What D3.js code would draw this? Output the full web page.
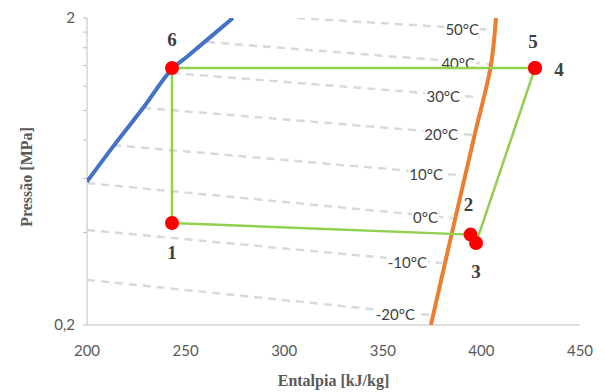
<!DOCTYPE html>
<html>
<head>
<meta charset="utf-8">
<script src="https://cdn.jsdelivr.net/npm/d3@7"></script>
<style>
  body { margin: 0; background: #fff; }
  text { font-family: "Liberation Serif", "Times New Roman", serif; }
  .sans { font-family: Lato, "Liberation Sans", sans-serif; }
</style>
</head>
<body>
<div id="chart"></div>
<script>
// Saturation curves [h kJ/kg, P MPa]
const liquidCurve = [[200, 0.586], [213.2, 0.762], [228.4, 1.018], [242.6, 1.354], [250.7, 1.496], [274, 2.0]];
const vaporCurve = [[374.4, 0.2], [385.2, 0.403], [396.8, 0.844], [404.7, 1.388], [407.4, 2.0]];

// Isotherms: label, start, end
const isoLabels = ["50°C", "40°C", "30°C", "20°C", "10°C", "0°C", "-10°C", "-20°C"];
const isoStart = [[306.5, 2.0], [260.9, 1.67], [243.1, 1.324], [228.4, 1.02], [213.2, 0.771], [200, 0.58], [200, 0.408], [200, 0.2805]];
const isoEnd = [[406.4, 1.828], [404.4, 1.416], [396.8, 1.106], [395.7, 0.832], [388.1, 0.616], [385.6, 0.446], [380.0, 0.318], [373.9, 0.2155]];

// Cycle states
const stateNames = ["1", "2", "3", "4", "5", "6"];
const stateH = [243.1, 394.5, 397.3, 427.2, 427.2, 243.1];
const stateP = [0.43, 0.394, 0.37, 1.375, 1.375, 1.375];

const xTicks = [200, 250, 300, 350, 400, 450];
const yMinorTicks = [0.2, 0.4, 0.6, 0.8, 1.0, 1.2, 1.4, 1.6, 1.8, 2.0];

const W = 605, H = 392;
const m = { left: 87, right: 580, top: 18, bottom: 325 };

const svg = d3.select("#chart").append("svg")
    .attr("width", W)
    .attr("height", H);

const x = d3.scaleLinear().domain([200, 450]).range([m.left, m.right]);
const y = d3.scaleLog().domain([0.2, 2]).range([m.bottom, m.top]);

svg.append("defs").append("clipPath").attr("id", "plot")
  .append("rect")
    .attr("x", m.left).attr("y", m.top)
    .attr("width", m.right - m.left).attr("height", m.bottom - m.top);

// Axes
svg.append("line")
    .attr("x1", m.left).attr("x2", m.right)
    .attr("y1", m.bottom).attr("y2", m.bottom)
    .attr("stroke", "#bfbfbf").attr("stroke-width", 1);
svg.append("line")
    .attr("x1", m.left).attr("x2", m.left)
    .attr("y1", m.top).attr("y2", m.bottom)
    .attr("stroke", "#bfbfbf").attr("stroke-width", 1);

svg.selectAll(".ytick")
    .data(yMinorTicks)
  .enter().append("line")
    .attr("x1", m.left - 4).attr("x2", m.left)
    .attr("y1", d => y(d)).attr("y2", d => y(d))
    .attr("stroke", "#bfbfbf");

svg.selectAll(".xlab")
    .data(xTicks)
  .enter().append("text")
    .attr("class", "sans")
    .attr("x", d => x(d))
    .attr("y", m.bottom + 31)
    .attr("text-anchor", "middle")
    .attr("font-size", 15)
    .attr("fill", "#595959")
    .text(d => d);

svg.selectAll(".ylab")
    .data([2, 0.2])
  .enter().append("text")
    .attr("class", "sans")
    .attr("x", m.left - 12)
    .attr("y", d => y(d) + 5)
    .attr("text-anchor", "end")
    .attr("font-size", 15)
    .attr("fill", "#595959")
    .text(d => String(d).replace(".", ","));

svg.append("text")
    .attr("x", (m.left + m.right) / 2)
    .attr("y", 386)
    .attr("text-anchor", "middle")
    .attr("font-size", 16)
    .attr("font-weight", "bold")
    .attr("fill", "#595959")
    .text("Entalpia [kJ/kg]");

svg.append("text")
    .attr("transform", "translate(32,177) rotate(-90)")
    .attr("text-anchor", "middle")
    .attr("font-size", 16)
    .attr("font-weight", "bold")
    .attr("fill", "#595959")
    .text("Pressão [MPa]");

const plot = svg.append("g").attr("clip-path", "url(#plot)");
const line = d3.line().x(d => x(d[0])).y(d => y(d[1]));
const curve = d3.line().x(d => x(d[0])).y(d => y(d[1])).curve(d3.curveCatmullRom);

// Isotherms
isoLabels.forEach((lab, i) => {
  plot.append("path")
      .datum([isoStart[i], isoEnd[i]])
      .attr("d", line)
      .attr("fill", "none")
      .attr("stroke", "#d9d9d9")
      .attr("stroke-width", 2.5)
      .attr("stroke-dasharray", "8,6");
});

// Saturation curves
plot.append("path")
    .datum(liquidCurve)
    .attr("d", curve)
    .attr("fill", "none")
    .attr("stroke", "#4472c4")
    .attr("stroke-width", 4);
plot.append("path")
    .datum(vaporCurve)
    .attr("d", curve)
    .attr("fill", "none")
    .attr("stroke", "#ed7d31")
    .attr("stroke-width", 4);

// Isotherm labels
isoLabels.forEach((lab, i) => {
  const ex = x(isoEnd[i][0]), ey = y(isoEnd[i][1]);
  const t = svg.append("text")
      .attr("class", "sans")
      .attr("x", ex - 15)
      .attr("y", ey + 5)
      .attr("text-anchor", "end")
      .attr("font-size", 15)
      .attr("fill", "#404040")
      .text(lab);
  const bb = t.node().getBBox();
  svg.insert("rect", () => t.node())
      .attr("x", bb.x - 1).attr("y", bb.y + 3)
      .attr("width", bb.width + 2).attr("height", bb.height - 6)
      .attr("fill", "#fff");
});

// Cycle
const states = stateNames.map((n, i) => ({ name: n, h: stateH[i], p: stateP[i] }));
const cycle = states.concat([states[0]]);
svg.append("path")
    .datum(cycle)
    .attr("d", d3.line().x(d => x(d.h)).y(d => y(d.p)))
    .attr("fill", "none")
    .attr("stroke", "#92d050")
    .attr("stroke-width", 2.5);

svg.selectAll(".dot")
    .data(states)
  .enter().append("circle")
    .attr("cx", d => x(d.h))
    .attr("cy", d => y(d.p))
    .attr("r", 7)
    .attr("fill", "#ff0000");

// State labels
const labelOffset = { "1": [0, 36], "2": [-2, -24], "3": [0, 35], "4": [24, 8], "5": [-2, -20], "6": [0, -22] };
svg.selectAll(".slab")
    .data(states)
  .enter().append("text")
    .attr("x", d => x(d.h) + labelOffset[d.name][0])
    .attr("y", d => y(d.p) + labelOffset[d.name][1])
    .attr("text-anchor", "middle")
    .attr("font-size", 19)
    .attr("font-weight", "bold")
    .attr("fill", "#404040")
    .text(d => d.name);
</script>
</body>
</html>
